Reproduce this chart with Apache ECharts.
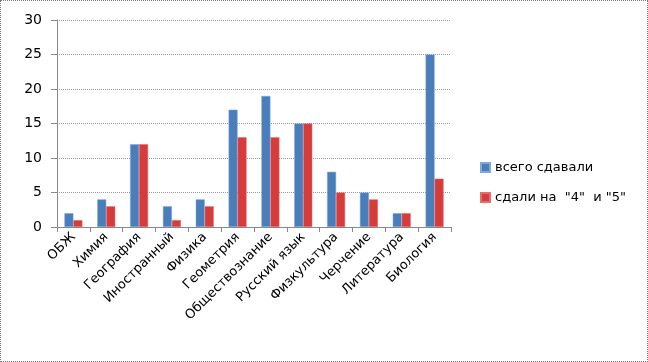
<!DOCTYPE html>
<html><head><meta charset="utf-8">
<script src="https://cdn.jsdelivr.net/npm/echarts@6/dist/echarts.min.js"></script>
<style>html,body{margin:0;padding:0;background:#fff}#c{width:648px;height:362px;box-sizing:border-box;border:1px dotted #777}</style>
</head><body><div id="c"></div>
<script>
const categories = ['ОБЖ','Химия','География','Иностранный','Физика','Геометрия','Обществознание','Русский язык','Физкультура','Черчение','Литература','Биология'];
const totalTaken = [2,4,12,3,4,17,19,15,8,5,2,25];
const passed45 = [1,3,12,1,3,13,13,15,5,4,2,7];
const seriesNames = ['всего сдавали','сдали на  "4"  и "5"'];
const chart = echarts.init(document.getElementById('c'));
const font = 'DejaVu Sans, Verdana, sans-serif';
chart.setOption({
  animation:false,
  grid:{left:56,right:196,top:19,bottom:134},
  legend:{orient:'vertical',left:474,top:155,itemWidth:9,itemHeight:9,itemGap:17,
    textStyle:{fontFamily:font,fontSize:13,color:'#000'},icon:'rect',data:seriesNames},
  xAxis:{type:'category',data:categories,
    axisLine:{lineStyle:{color:'#888'}},
    axisTick:{show:true,length:5,lineStyle:{color:'#888'}},
    axisLabel:{rotate:45,interval:0,fontFamily:font,fontSize:13,color:'#000',margin:8}},
  yAxis:{type:'value',min:0,max:30,interval:5,
    axisLine:{show:true,lineStyle:{color:'#888'}},
    axisTick:{show:true,length:6,lineStyle:{color:'#888'}},
    splitLine:{lineStyle:{color:'#999',type:'dotted'}},
    axisLabel:{fontFamily:font,fontSize:14,color:'#000',margin:15}},
  series:[
    {name:seriesNames[0],type:'bar',data:totalTaken,barWidth:9,barGap:'0%',
     itemStyle:{color:'#4a7ebb',borderColor:'#7fa9de',borderWidth:0.5}},
    {name:seriesNames[1],type:'bar',data:passed45,barWidth:9,
     itemStyle:{color:'#d63c3c',borderColor:'#e07070',borderWidth:0.5}}
  ]
});
</script></body></html>
